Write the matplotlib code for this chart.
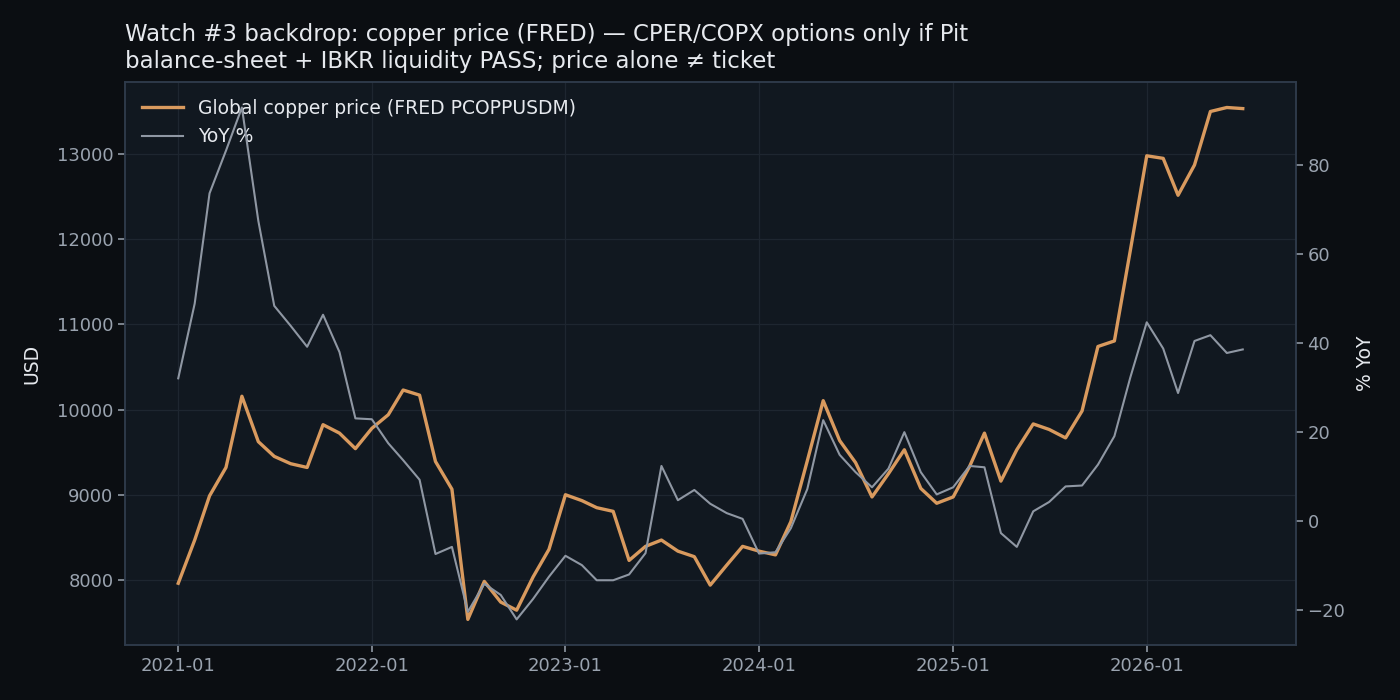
import matplotlib
matplotlib.use("Agg")
import matplotlib.pyplot as plt
import matplotlib.dates as mdates
import pandas as pd

dates = pd.date_range("2021-01-01", periods=67, freq="MS")

copper_usd = [
    7961, 8468, 8987, 9320, 10156, 9623, 9450, 9364, 9320, 9822, 9723, 9541,
    9779, 9939, 10229, 10169, 9390, 9065, 7537, 7983, 7740, 7645, 8035, 8359,
    9000, 8931, 8848, 8805, 8229, 8394, 8468, 8338, 8273, 7939, 8173, 8394,
    8338, 8294, 8684, 9398, 10104, 9636, 9377, 8974, 9247, 9528, 9074, 8900,
    8974, 9333, 9723, 9160, 9528, 9831, 9766, 9667, 9983, 10740, 10805, 11866,
    12978, 12948, 12515, 12870, 13498, 13545, 13532,
]

yoy_pct = [
    32.0, 48.8, 73.6, 83.2, 92.9, 67.4, 48.3, 43.8, 39.1, 46.3, 37.9, 23.0,
    22.8, 17.4, 13.6, 9.2, -7.5, -5.9, -20.5, -14.2, -16.7, -22.2, -17.6, -12.6,
    -7.9, -10.0, -13.4, -13.4, -12.1, -7.3, 12.3, 4.6, 6.9, 3.8, 1.7, 0.4,
    -7.4, -7.1, -1.7, 7.1, 22.6, 14.8, 10.9, 7.5, 11.7, 19.9, 10.9, 5.9,
    7.5, 12.3, 12.0, -2.8, -5.9, 2.1, 4.2, 7.7, 7.9, 12.6, 19.0, 32.2,
    44.6, 38.7, 28.7, 40.4, 41.7, 37.7, 38.5,
]

title = ("Watch #3 backdrop: copper price (FRED) \u2014 CPER/COPX options only if Pit\n"
         "balance-sheet + IBKR liquidity PASS; price alone \u2260 ticket")

FIG_BG = "#0b0e12"
AX_BG = "#111820"
SPINE = "#2f3b4b"
TICK = "#9aa3af"
TEXT = "#e6e9ee"
GRID = "#1e2630"
ORANGE = "#d99a5e"
GREY = "#8f97a3"

plt.rcParams["font.family"] = ["DejaVu Sans"]

fig = plt.figure(figsize=(14, 7), dpi=100, facecolor=FIG_BG)
ax = fig.add_axes([0.0893, 0.0786, 0.8364, 0.8044])
ax.set_facecolor(AX_BG)

l1, = ax.plot(dates, copper_usd, color=ORANGE, lw=2.4, label="Global copper price (FRED PCOPPUSDM)")
ax2 = ax.twinx()
l2, = ax2.plot(dates, yoy_pct, color=GREY, lw=1.5, label="YoY %")

ax.grid(True, color=GRID, lw=0.9)
ax.set_axisbelow(True)

for a in (ax, ax2):
    for s in a.spines.values():
        s.set_color(SPINE)
        s.set_linewidth(1.1)
    a.tick_params(colors=TICK, labelsize=13, length=4.8, width=1.1)
ax.set_ylabel("USD", color=TEXT, fontsize=13.5, labelpad=11)
ax2.set_ylabel("% YoY", color=TEXT, fontsize=13.5, labelpad=8)
ax.xaxis.set_major_locator(mdates.YearLocator())
ax.xaxis.set_major_formatter(mdates.DateFormatter("%Y-%m"))

ax.set_title(title, loc="left", color=TEXT, fontsize=16.5, pad=10)

leg = ax.legend(handles=[l1, l2], loc="upper left", frameon=False, fontsize=13.5,
                labelcolor=TEXT, handlelength=2.2)

fig.savefig("out.png", dpi=100, facecolor=FIG_BG)
